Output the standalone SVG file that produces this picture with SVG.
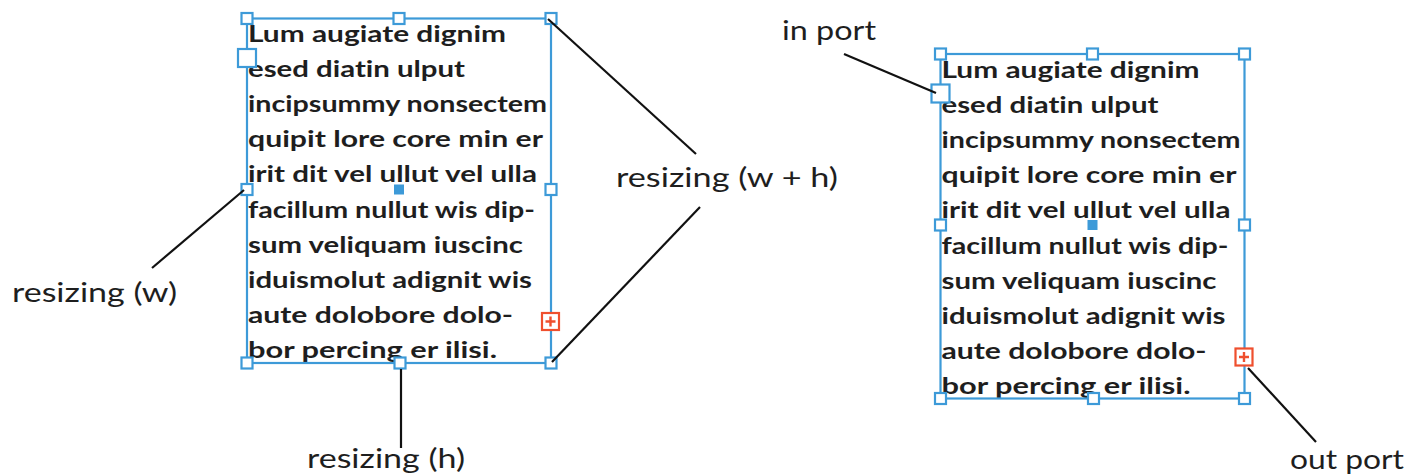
<svg xmlns="http://www.w3.org/2000/svg" width="1421" height="475" viewBox="0 0 1421 475">
<style>
.frame{fill:none;stroke:#3d9ad8;stroke-width:2.2}
.h{fill:#fff;stroke:#3d9ad8;stroke-width:2.2}
.c{fill:#3d9ad8}
.port{fill:#fff;stroke:#ef4f2e;stroke-width:2.2}
.plus{stroke:#ef4f2e;stroke-width:2.4;fill:none}
.t{font-family:"Lato","Liberation Sans",sans-serif;font-weight:700;font-size:23.5px;fill:#1e1e1e;font-variant-ligatures:none}
.lab{font-family:"Lato","Liberation Sans",sans-serif;font-weight:400;font-size:27px;fill:#1e1e1e;font-variant-ligatures:none}
.con{stroke:#111;stroke-width:2.2;fill:none}
</style>
<defs>
<g id="para">
<text class="t" x="1" y="0" textLength="258" lengthAdjust="spacingAndGlyphs">Lum augiate dignim</text>
<text class="t" x="1" y="35" textLength="217" lengthAdjust="spacingAndGlyphs">esed diatin ulput</text>
<text class="t" x="1" y="70" textLength="299" lengthAdjust="spacingAndGlyphs">incipsummy nonsectem</text>
<text class="t" x="1" y="105" textLength="295" lengthAdjust="spacingAndGlyphs">quipit lore core min er</text>
<text class="t" x="1" y="140" textLength="289" lengthAdjust="spacingAndGlyphs">irit dit vel ullut vel ulla</text>
<text class="t" x="1" y="176" textLength="287" lengthAdjust="spacingAndGlyphs">facillum nullut wis dip-</text>
<text class="t" x="1" y="211" textLength="275" lengthAdjust="spacingAndGlyphs">sum veliquam iuscinc</text>
<text class="t" x="1" y="246" textLength="284" lengthAdjust="spacingAndGlyphs">iduismolut adignit wis</text>
<text class="t" x="1" y="281" textLength="265" lengthAdjust="spacingAndGlyphs">aute dolobore dolo-</text>
<text class="t" x="1" y="316" textLength="249" lengthAdjust="spacingAndGlyphs">bor percing er ilisi.</text>
</g>
<g id="box">
<use href="#para" x="0" y="23.5"/>
<rect class="frame" x="0" y="0" width="304" height="344.5"/>
<rect class="h" x="-5.5" y="-5.5" width="11" height="11"/>
<rect class="h" x="146.5" y="-5.5" width="11" height="11"/>
<rect class="h" x="298.5" y="-5.5" width="11" height="11"/>
<rect class="h" x="-5.5" y="165.5" width="11" height="11"/>
<rect class="h" x="298.5" y="165.5" width="11" height="11"/>
<rect class="h" x="-5.5" y="339" width="11" height="11"/>
<rect class="h" x="147.5" y="339" width="11" height="11"/>
<rect class="h" x="298.5" y="339" width="11" height="11"/>
<rect class="c" x="147" y="166" width="10" height="10"/>
<rect class="h" x="-9" y="30.5" width="18" height="18"/>
<rect class="port" x="295" y="294.5" width="17" height="17"/>
<path class="plus" d="M298.5 303h10M303.5 298v10"/>
</g>
</defs>
<g id="node-left">
<use href="#box" x="247" y="18.5"/>
</g>
<g id="node-right">
<use href="#box" x="940.5" y="54"/>
</g>
<g id="connectors">
<line class="con" x1="548" y1="19" x2="696" y2="154"/>
<line class="con" x1="700" y1="207" x2="552" y2="362"/>
<line class="con" x1="152" y1="268" x2="244" y2="190"/>
<line class="con" x1="401" y1="369" x2="401" y2="448"/>
<line class="con" x1="844" y1="54" x2="936" y2="93"/>
<line class="con" x1="1248" y1="368" x2="1316" y2="442"/>
</g>
<g id="labels">
<text class="lab" x="616" y="187" textLength="222" lengthAdjust="spacingAndGlyphs">resizing (w + h)</text>
<text class="lab" x="12" y="302" textLength="165" lengthAdjust="spacingAndGlyphs">resizing (w)</text>
<text class="lab" x="307" y="468" textLength="158" lengthAdjust="spacingAndGlyphs">resizing (h)</text>
<text class="lab" x="782" y="40" textLength="94" lengthAdjust="spacingAndGlyphs">in port</text>
<text class="lab" x="1290" y="469" textLength="114" lengthAdjust="spacingAndGlyphs">out port</text>
</g>
</svg>
